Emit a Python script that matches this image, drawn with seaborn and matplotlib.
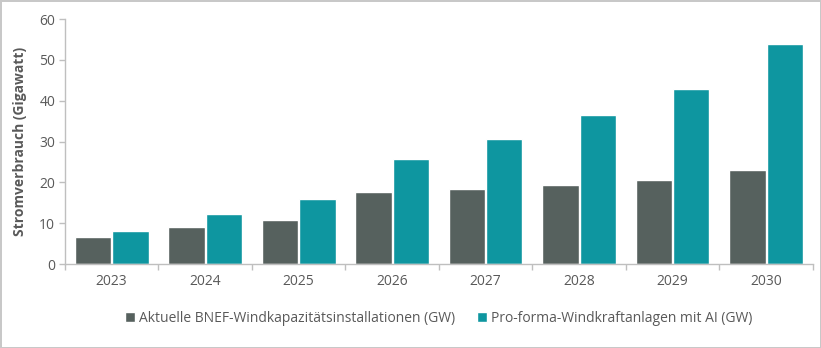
import matplotlib
matplotlib.use("Agg")
import matplotlib.pyplot as plt
import seaborn as sns
import pandas as pd

years = ["2023", "2024", "2025", "2026", "2027", "2028", "2029", "2030"]
bnef_gw = [6.7, 9.2, 10.8, 17.6, 18.4, 19.3, 20.6, 23.0]
ai_gw = [8.1, 12.3, 16.0, 25.7, 30.7, 36.5, 42.9, 54.0]
series_names = [
    "Aktuelle BNEF-Windkapazitätsinstallationen (GW)",
    "Pro-forma-Windkraftanlagen mit AI (GW)",
]
colors = ["#56615e", "#0e96a0"]

df = pd.DataFrame({
    "Jahr": years * 2,
    "GW": bnef_gw + ai_gw,
    "Serie": [series_names[0]] * len(years) + [series_names[1]] * len(years),
})

sns.set_theme(style="white")
plt.rcParams["font.family"] = ["Open Sans", "DejaVu Sans"]

fig = plt.figure(figsize=(8.21, 3.48), dpi=100)
ax = fig.add_axes([0.079, 0.241, 0.911, 0.704])

sns.barplot(data=df, x="Jahr", y="GW", hue="Serie", palette=colors,
            width=0.8, gap=0.025, saturation=1, ax=ax, legend=True)

ax.set_ylim(0, 60)
ax.set_yticks(range(0, 61, 10))
ax.set_xlim(-0.5, len(years) - 0.5)
ax.set_xlabel("")
ax.set_ylabel("Stromverbrauch (Gigawatt)", fontsize=10, fontweight="bold",
              color="#595959", labelpad=9)

for side in ["top", "right"]:
    ax.spines[side].set_visible(False)
for side in ["left", "bottom"]:
    ax.spines[side].set_color("#bfbfbf")
    ax.spines[side].set_linewidth(1)

# category separators as minor ticks on the x axis
ax.set_xticks([i + 0.5 for i in range(-1, len(years))], minor=True)
ax.tick_params(axis="x", which="minor", length=4, color="#bfbfbf", width=1, bottom=True)
ax.tick_params(axis="x", which="major", length=0, labelsize=10, labelcolor="#595959", pad=7)
ax.tick_params(axis="y", length=4, color="#bfbfbf", width=1, left=True,
               labelsize=10, labelcolor="#595959", pad=3)

leg = ax.legend(loc="upper center", bbox_to_anchor=(0.5, -0.14), ncol=2,
                frameon=False, fontsize=10, handlelength=0.7, handleheight=0.7,
                handletextpad=0.3, columnspacing=1.6)
for t in leg.get_texts():
    t.set_color("#595959")

fig.patch.set_edgecolor("#c8c8c8")
fig.patch.set_linewidth(2)

fig.savefig("out.png", dpi=100, edgecolor=fig.get_edgecolor())
